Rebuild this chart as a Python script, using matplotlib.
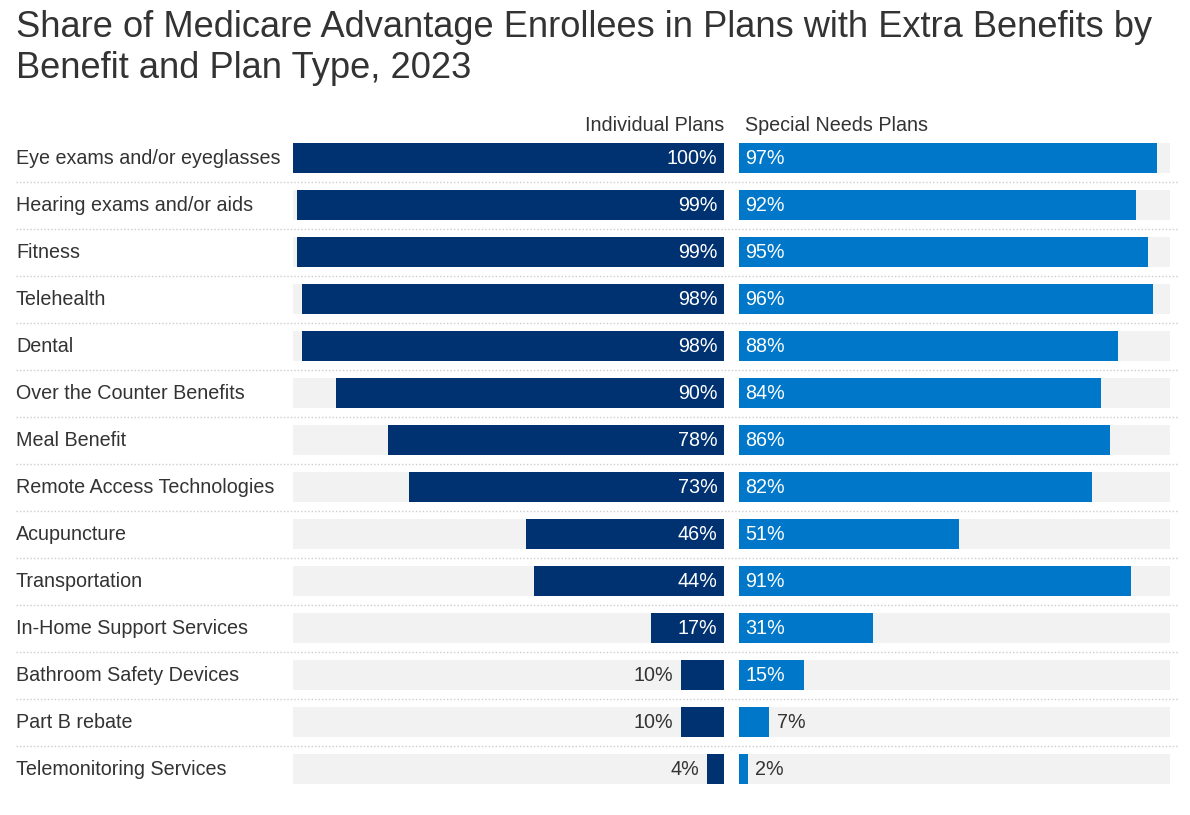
import matplotlib
matplotlib.use("Agg")
import matplotlib.pyplot as plt

plt.rcParams['font.family'] = ['Liberation Sans', 'DejaVu Sans']

categories = ["Eye exams and/or eyeglasses", "Hearing exams and/or aids", "Fitness",
              "Telehealth", "Dental", "Over the Counter Benefits", "Meal Benefit",
              "Remote Access Technologies", "Acupuncture", "Transportation",
              "In-Home Support Services", "Bathroom Safety Devices", "Part B rebate",
              "Telemonitoring Services"]
individual = [100, 99, 99, 98, 98, 90, 78, 73, 46, 44, 17, 10, 10, 4]
special = [97, 92, 95, 96, 88, 84, 86, 82, 51, 91, 31, 15, 7, 2]
series_names = ["Individual Plans", "Special Needs Plans"]
title_lines = ["Share of Medicare Advantage Enrollees in Plans with Extra Benefits by",
               "Benefit and Plan Type, 2023"]

W, H = 1190, 815
fig = plt.figure(figsize=(W / 100, H / 100), dpi=100)

n = len(categories)
row_pitch = 47
top_px = 158 - row_pitch / 2
bot_px = top_px + n * row_pitch

def rect(x0, x1):
    return [x0 / W, (H - bot_px) / H, (x1 - x0) / W, (bot_px - top_px) / H]

text_col = "#333333"
dark = "#003272"
light = "#0077c8"
bg = "#f2f2f2"
bar_h = 30 / row_pitch
fs = 14.2

# background axes for separators and category labels
axg = fig.add_axes(rect(16, 1178), zorder=0)
axg.set_xlim(0, 1)
axg.set_ylim(n - 0.5, -0.5)
axg.axis("off")
axg.hlines([i + 0.5 for i in range(n - 1)], 0, 1, colors="#cccccc",
           linestyles=(0, (1, 1.5)), linewidth=1)
for i, c in enumerate(categories):
    axg.text(0, i, c, ha="left", va="center", fontsize=fs, color=text_col)

ys = list(range(n))

axl = fig.add_axes(rect(293, 724), zorder=1)
axl.patch.set_alpha(0)
axl.barh(ys, [100] * n, height=bar_h, color=bg)
axl.barh(ys, individual, height=bar_h, color=dark)
axl.set_xlim(100, 0)
axl.set_ylim(n - 0.5, -0.5)
axl.axis("off")
for i, v in enumerate(individual):
    if v >= 15:
        axl.text(1.5, i, f"{v}%", ha="right", va="center", fontsize=fs, color="white")
    else:
        axl.text(v + 1.7, i, f"{v}%", ha="right", va="center", fontsize=fs, color=text_col)
axl.text(0, -0.70, series_names[0], ha="right", va="center", fontsize=fs, color=text_col)

axr = fig.add_axes(rect(739, 1170), zorder=1)
axr.patch.set_alpha(0)
axr.barh(ys, [100] * n, height=bar_h, color=bg)
axr.barh(ys, special, height=bar_h, color=light)
axr.set_xlim(0, 100)
axr.set_ylim(n - 0.5, -0.5)
axr.axis("off")
for i, v in enumerate(special):
    if v >= 12:
        axr.text(1.4, i, f"{v}%", ha="left", va="center", fontsize=fs, color="white")
    else:
        axr.text(v + 1.8, i, f"{v}%", ha="left", va="center", fontsize=fs, color=text_col)
axr.text(1.4, -0.70, series_names[1], ha="left", va="center", fontsize=fs, color=text_col)

for k, (line, base) in enumerate(zip(title_lines, [37, 78])):
    fig.text(16 / W, 1 - base / H, line, ha="left", va="baseline", fontsize=26.1,
             color=text_col)

fig.savefig("out.png", dpi=100)
